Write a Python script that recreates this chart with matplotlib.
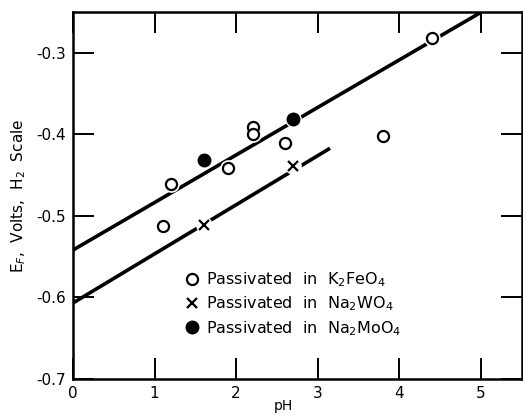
import numpy as np
import matplotlib
matplotlib.use("Agg")
from matplotlib import pyplot as plt

plt.rcParams['font.family'] = ['DejaVu Sans']

# K2FeO4 (open circles)
fe_ph = [1.1, 1.2, 1.9, 2.2, 2.2, 2.6, 3.8, 4.4]
fe_e = [-0.512, -0.461, -0.441, -0.391, -0.400, -0.410, -0.402, -0.281]
# Na2WO4 (crosses)
w_ph = [1.6, 2.7]
w_e = [-0.511, -0.439]
# Na2MoO4 (filled circles)
mo_ph = [1.6, 2.7]
mo_e = [-0.432, -0.381]

# fitted lines (end points)
upper_ph = [0.0, 5.0]
upper_e = [-0.542, -0.25]
lower_ph = [0.0, 3.15]
lower_e = [-0.607, -0.417]

fig = plt.figure(figsize=(5.23, 4.16), dpi=100)
ax = fig.add_axes([0.1396, 0.0897, 0.858, 0.8807])

ax.plot(upper_ph, upper_e, color='black', lw=2.6, solid_capstyle='butt', zorder=2)
ax.plot(lower_ph, lower_e, color='black', lw=2.6, solid_capstyle='butt', zorder=2)

# white halos so the lines break around the markers
ax.plot(fe_ph + w_ph + mo_ph, fe_e + w_e + mo_e, 'o', ms=12, mfc='white', mec='none',
        ls='none', zorder=2.5)

ax.plot(fe_ph, fe_e, 'o', ms=8, mfc='white', mec='black', mew=1.6, ls='none', zorder=3,
        label=r'Passivated  in  K$_2$FeO$_4$')
ax.plot(w_ph, w_e, 'x', ms=7, mec='black', mew=1.6, ls='none', zorder=3,
        label=r'Passivated  in  Na$_2$WO$_4$')
ax.plot(mo_ph, mo_e, 'o', ms=9, mfc='black', mec='black', mew=1, ls='none', zorder=3,
        label=r'Passivated  in  Na$_2$MoO$_4$')

ax.set_xlim(0, 5.5)
ax.set_ylim(-0.7, -0.25)
ax.set_xticks([0, 1, 2, 3, 4, 5])
ax.set_yticks([-0.7, -0.6, -0.5, -0.4, -0.3])
ax.set_xticklabels(['0', '1', '2', '3', '4', '5'])
ax.set_yticklabels(['-0.7', '-0.6', '-0.5', '-0.4', '-0.3'])
ax.tick_params(direction='in', length=15, width=1.4, top=True, right=True,
               labelsize=11, pad=5)
for s in ax.spines.values():
    s.set_linewidth(1.8)

ax.set_xlabel('pH', fontsize=10, va='center')
ax.xaxis.set_label_coords(0.468, -0.075)
ax.set_ylabel(r'E$_F$,  Volts,  H$_2$  Scale', fontsize=11, labelpad=6)

ax.legend(loc='lower left', bbox_to_anchor=(0.225, 0.09), frameon=False, fontsize=11.5,
          handletextpad=0.3, labelspacing=0.35, handlelength=1.2, borderpad=0)

fig.savefig('out.png', dpi=100)
